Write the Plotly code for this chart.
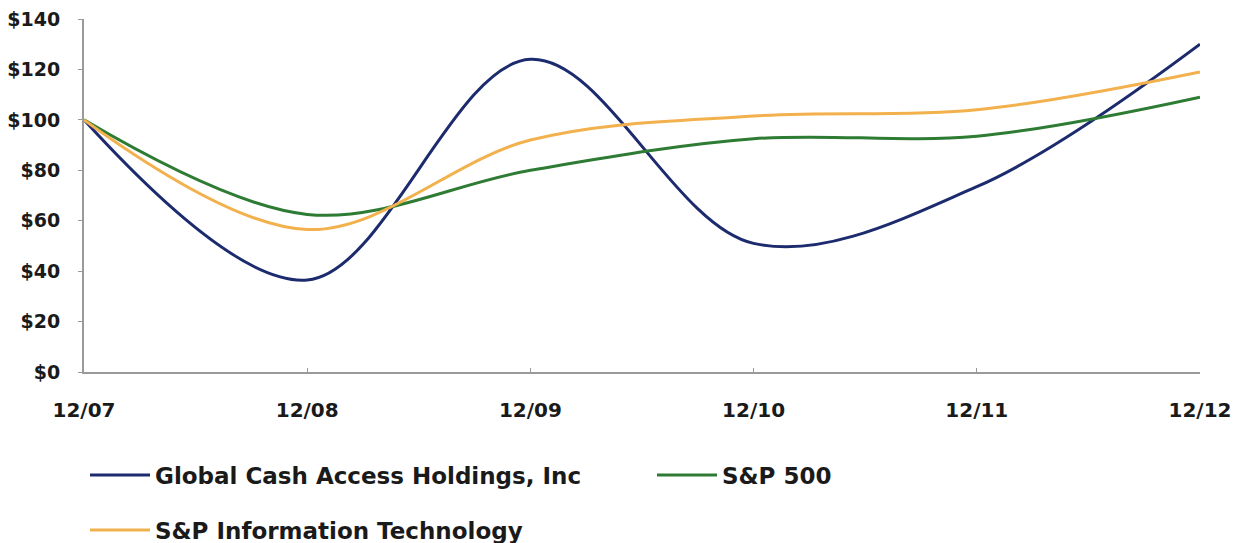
import plotly.graph_objects as go

periods = ["12/07", "12/08", "12/09", "12/10", "12/11", "12/12"]
gca = [100, 36.5, 124, 51, 73.5, 130]
sp500 = [100, 62.5, 80, 92.5, 93.5, 109]
sp_it = [100, 56.5, 92, 101.5, 104, 119]
y_ticks = [0, 20, 40, 60, 80, 100, 120, 140]
y_tick_text = ["$" + str(v) for v in y_ticks]

names = ["Global Cash Access Holdings, Inc", "S&P 500", "S&P Information Technology"]
colors = ["#1c2a6e", "#2e7b34", "#f2b14c"]

tick_font = dict(family="DejaVu Sans", size=19, color="#1a1a1a", weight="bold")
leg_font = dict(family="DejaVu Sans", size=23, color="#1a1a1a", weight="bold")

fig = go.Figure()
for vals, name, col, leg in zip([gca, sp500, sp_it], names, colors, ["legend", "legend2", "legend3"]):
    fig.add_trace(go.Scatter(
        x=list(range(len(periods))), y=vals, name=name, mode="lines",
        line=dict(color=col, width=3, shape="spline", smoothing=1),
        legend=leg,
    ))

def leg(x, y):
    return dict(orientation="h", xref="container", yref="container",
                x=x, y=y, yanchor="middle", xanchor="left",
                itemwidth=60, font=leg_font, bgcolor="rgba(0,0,0,0)")

fig.update_layout(
    width=1242, height=543,
    margin=dict(l=84, r=42, t=19, b=171, autoexpand=False),
    paper_bgcolor="white", plot_bgcolor="white",
    font=tick_font,
    showlegend=True,
    legend=leg(85 / 1242, 1 - 475 / 543),
    legend2=leg(652 / 1242, 1 - 475 / 543),
    legend3=leg(85 / 1242, 1 - 530 / 543),
)
fig.update_xaxes(
    range=[0, 5], tickvals=list(range(len(periods))), ticktext=periods,
    tickfont=dict(size=20), automargin=False,
    showgrid=False, zeroline=False, showline=True, linecolor="#9a9a9a", linewidth=2,
    ticks="inside", ticklen=4, tickcolor="#9a9a9a", ticklabelstandoff=19,
)
fig.update_yaxes(
    range=[0, 140], tickvals=y_ticks, ticktext=y_tick_text, automargin=False,
    showgrid=False, zeroline=False, showline=True, linecolor="#9a9a9a", linewidth=2,
    ticks="outside", ticklen=4, tickcolor="#9a9a9a", ticklabelstandoff=14,
)
fig.write_html("out.html")
